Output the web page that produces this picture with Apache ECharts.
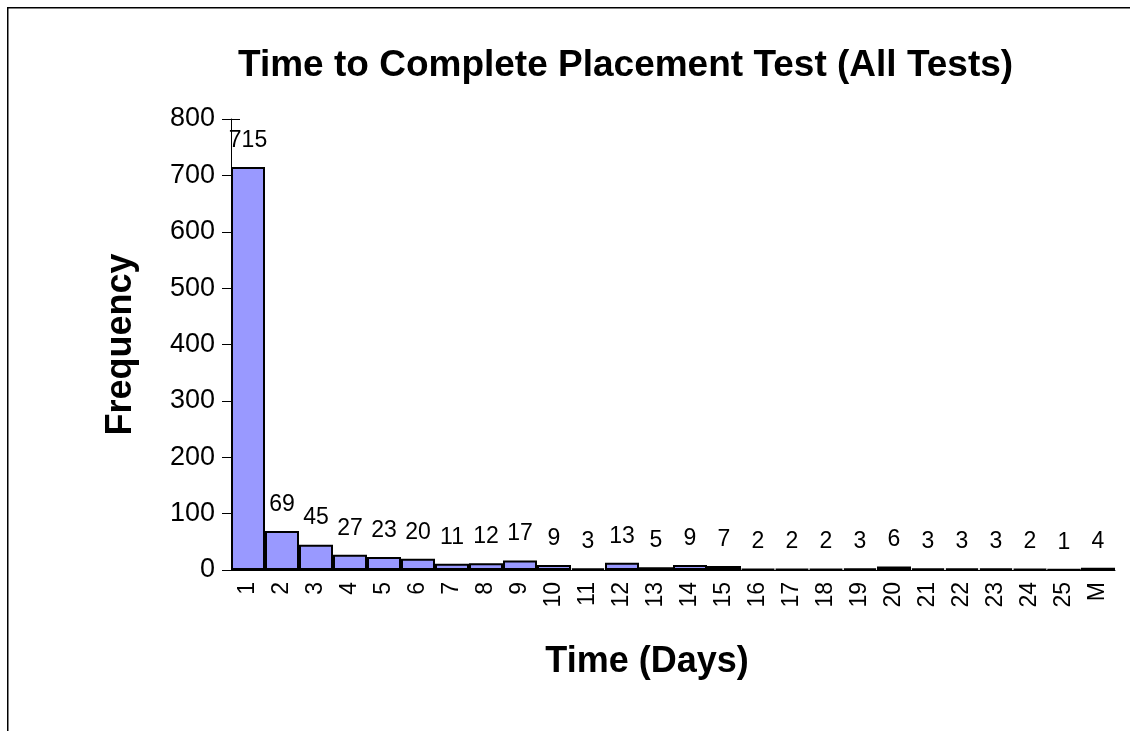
<!DOCTYPE html>
<html>
<head>
<meta charset="utf-8">
<script src="https://cdn.jsdelivr.net/npm/echarts@6/dist/echarts.min.js"></script>
<style>
  html, body { margin: 0; padding: 0; background: #fff; }
  #chart { width: 1130px; height: 731px; }
</style>
</head>
<body>
<div id="chart"></div>
<script>
// categories (days) and frequencies
const days = ['1', '2', '3', '4', '5', '6', '7', '8', '9', '10', '11', '12', '13',
  '14', '15', '16', '17', '18', '19', '20', '21', '22', '23', '24', '25', 'M'];
const frequency = [715, 69, 45, 27, 23, 20, 11, 12, 17, 9, 3, 13, 5,
  9, 7, 2, 2, 2, 3, 6, 3, 3, 3, 2, 1, 4];
const yTicks = { min: 0, max: 800, interval: 100 };

const font = 'Liberation Sans, Arial, sans-serif';
const myChart = echarts.init(document.getElementById('chart'));

const option = {
  animation: false,
  backgroundColor: '#fff',
  title: {
    text: 'Time to Complete Placement Test (All Tests)',
    left: 233,
    top: 42,
    textStyle: { fontFamily: font, fontSize: 37, fontWeight: 'bold', color: '#000' }
  },
  graphic: [{
    type: 'rect',
    shape: { x: 7.75, y: 7.75, width: 1300, height: 900 },
    style: { fill: 'none', stroke: '#000', lineWidth: 1.5 },
    silent: true
  }],
  grid: { left: 231, right: 15, top: 119, bottom: 161 },
  xAxis: [
    {
      type: 'category',
      data: days,
      name: 'Time (Days)',
      nameLocation: 'middle',
      nameGap: 74,
      nameTextStyle: { fontFamily: font, fontSize: 36, fontWeight: 'bold', color: '#000', padding: [0, 52, 0, 0] },
      axisLine: { lineStyle: { color: '#000', width: 1 } },
      axisTick: { length: 8, lineStyle: { color: '#000' } },
      axisLabel: { rotate: 90, margin: 12, fontFamily: font, fontSize: 23, color: '#000', interval: 0 },
      splitLine: { show: false }
    },
    {
      type: 'category',
      data: days,
      position: 'bottom',
      axisLine: { show: false },
      axisTick: { inside: true, length: 6, lineStyle: { color: '#000' } },
      axisLabel: { show: false },
      splitLine: { show: false }
    }
  ],
  yAxis: [
    {
      type: 'value',
      min: yTicks.min,
      max: yTicks.max,
      interval: yTicks.interval,
      name: 'Frequency',
      nameLocation: 'middle',
      nameGap: 92,
      nameTextStyle: { fontFamily: font, fontSize: 36, fontWeight: 'bold', color: '#000' },
      axisLine: { show: true, lineStyle: { color: '#000', width: 1 } },
      axisTick: { show: true, length: 9, lineStyle: { color: '#000' } },
      axisLabel: { margin: 16, fontFamily: font, fontSize: 27, color: '#000' },
      splitLine: { show: false }
    },
    {
      type: 'value',
      position: 'left',
      min: yTicks.min,
      max: yTicks.max,
      interval: yTicks.interval,
      axisLine: { show: false },
      axisTick: { show: true, inside: true, length: 9, lineStyle: { color: '#000' } },
      axisLabel: { show: false },
      splitLine: { show: false }
    }
  ],
  series: [
    {
      type: 'bar',
      data: frequency,
      barCategoryGap: 0,
      itemStyle: { color: '#9999FF', borderColor: '#000', borderWidth: 2 },
      label: {
        show: true,
        position: 'top',
        distance: 15,
        fontFamily: font,
        fontSize: 23,
        color: '#000'
      }
    }
  ]
};

myChart.setOption(option);
</script>
</body>
</html>
